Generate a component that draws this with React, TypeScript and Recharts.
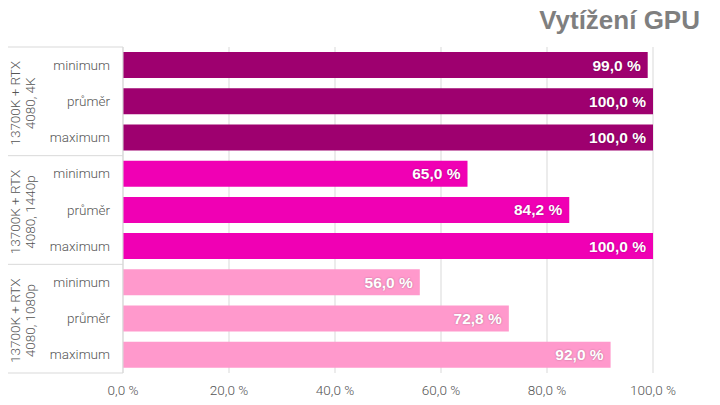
import React from 'react';
import { BarChart, Bar, XAxis, YAxis, CartesianGrid, LabelList, Cell } from 'recharts';

const groups = ['13700K + RTX|4080, 4K', '13700K + RTX|4080, 1440p', '13700K + RTX|4080, 1080p'];
const rowLabels = ['minimum', 'průměr', 'maximum'];
const values = [99.0, 100.0, 100.0, 65.0, 84.2, 100.0, 56.0, 72.8, 92.0];
const groupColors = ['#9e006f', '#f000b4', '#ff99cc'];
const xTicks = [0, 20, 40, 60, 80, 100];

const data = values.map((v, i) => ({
    id: i,
    group: Math.floor(i / 3),
    label: rowLabels[i % 3],
    value: v,
}));

const fmt = (v: number) => v.toFixed(1).replace('.', ',') + ' %';

const PLOT_TOP = 47;
const PLOT_BOTTOM = 373;
const PLOT_LEFT = 123;
const BAND = (PLOT_BOTTOM - PLOT_TOP) / values.length;

const RowTick = ({ y, payload }: any) => {
    const idx = Number(payload.value);
    const row = data[idx];
    const lines = groups[row.group].split('|');
    const top = y - BAND / 2;
    const bottom = y + BAND / 2;
    return (
        <g>
            <text x={110} y={y} dy={4.5} textAnchor="end" fontSize={13.5} fontWeight={300} fill="#555" fontFamily="Roboto">
                {row.label}
            </text>
            {idx % 3 === 0 && <line x1={6} x2={PLOT_LEFT} y1={top} y2={top} stroke="#d9d9d9" />}
            {idx === values.length - 1 && <line x1={6} x2={PLOT_LEFT} y1={bottom} y2={bottom} stroke="#d9d9d9" />}
            {idx % 3 === 1 && (
                <text transform={`translate(0, ${y + 2}) rotate(-90)`} textAnchor="middle" fontSize={13.5} fontWeight={300} fill="#555" fontFamily="Roboto">
                    <tspan x={0} y={20}>{lines[0]}</tspan>
                    <tspan x={0} y={35}>{lines[1]}</tspan>
                </text>
            )}
        </g>
    );
};

const App: React.FC = () => {
    return (
        <div style={{ position: 'relative', width: 720, height: 405, margin: -8, background: '#fff' }}>
            <div style={{
                position: 'absolute', right: 20, top: 5, fontFamily: 'Liberation Sans, Arial, sans-serif',
                fontWeight: 'bold', fontSize: 26, color: '#7f7f7f', lineHeight: '30px',
            }}>
                Vytížení GPU
            </div>
            <BarChart
                width={720}
                height={405}
                data={data}
                layout="vertical"
                margin={{ top: PLOT_TOP, right: 720 - 653, bottom: 0, left: 0 }}
                barSize={26}
            >
                <CartesianGrid horizontal={false} stroke="#d9d9d9" />
                <XAxis
                    type="number"
                    domain={[0, 100]}
                    ticks={xTicks}
                    tickFormatter={fmt}
                    axisLine={false}
                    tickLine={false}
                    tick={{ fontSize: 13.5, fontWeight: 300, fill: '#555', fontFamily: 'Roboto' }}
                    tickMargin={6}
                    height={405 - PLOT_BOTTOM}
                />
                <YAxis
                    type="category"
                    dataKey="id"
                    width={PLOT_LEFT}
                    tick={<RowTick />}
                    tickLine={false}
                    axisLine={{ stroke: '#d9d9d9' }}
                    interval={0}
                />
                <Bar dataKey="value" isAnimationActive={false}>
                    {data.map((d) => (
                        <Cell key={d.id} fill={groupColors[d.group]} />
                    ))}
                    <LabelList
                        dataKey="value"
                        position="insideRight"
                        offset={7}
                        formatter={(v: any) => fmt(Number(v))}
                        style={{
                            fill: '#ffffff', fontWeight: 'bold', fontSize: 15.5,
                            fontFamily: 'Liberation Sans, Arial, sans-serif',
                            textShadow: '0 0 2px rgba(0,0,0,0.3)',
                        }}
                    />
                </Bar>
            </BarChart>
        </div>
    );
};

export default App;
